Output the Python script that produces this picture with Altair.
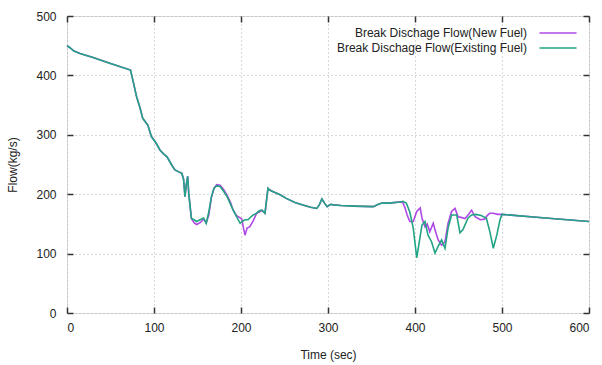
import altair as alt
import pandas as pd

# ---- data ----
t_common_a = [0, 3, 8, 15, 30, 50, 73, 76, 80, 84, 87, 90, 93, 97, 102, 107, 111, 115, 120, 124, 128, 132, 134, 135.6, 137, 138.7, 140, 143]
v_common_a = [450, 447, 441, 437, 430, 420, 409, 390, 364, 345, 328, 322, 316, 297, 287, 274, 268, 263, 250, 241, 238, 235, 225, 196, 215, 230, 200, 159]

t_mid1_new = [146, 149, 153, 157, 160, 163, 166, 169, 172, 176, 180, 184, 188, 191, 195, 199, 201, 203, 204.6, 207, 210, 214, 218, 221, 224, 227.6]
v_mid1_new = [152, 149, 152, 158, 152, 165, 195, 210, 216, 215, 208, 198, 186, 173, 164, 160, 158, 142, 131, 143, 145, 155, 168, 170, 173, 168]
t_mid1_exist = [146, 149, 153, 157, 160, 163, 166, 169, 172, 176, 180, 184, 188, 191, 195, 199, 202, 205, 208, 210, 214, 218, 221, 224, 227.6]
v_mid1_exist = [157, 154, 157, 160, 151, 170, 196, 210, 214, 213, 205, 196, 183, 173, 162, 151, 155, 157, 157, 160, 165, 168, 172, 173, 168]

t_common_b = [231, 233, 237, 245, 252, 262, 271, 280, 287, 290, 293, 296, 299, 303, 306, 315, 330, 352, 358, 362, 370, 383]
v_common_b = [210, 207, 204, 199, 193, 186, 182, 178, 176, 182, 192, 185, 179, 183, 182, 181, 180, 179, 183, 185, 185, 187]

t_mid2_new = [386, 388.5, 391, 394, 398, 402, 406, 408, 411.5, 414, 417, 421, 423, 426.6, 430.6, 434.5, 438, 442, 446, 449.5, 453, 457.5, 461, 465, 469, 475, 480, 483, 486, 490, 495]
v_mid2_new = [186, 177, 165, 154, 154, 171, 177, 160, 145, 150, 137, 151, 140, 123, 114, 120, 151, 171, 176, 162, 161, 159, 165, 173, 162, 157, 158, 164, 168, 168, 166]
t_mid2_exist = [386, 390, 394, 398, 402, 405, 408, 411.5, 415, 419, 423, 426.6, 430.6, 434.5, 438, 442, 448, 451.7, 455, 458, 461, 465, 470, 476, 482, 486, 490, 494, 497.7]
v_mid2_exist = [188, 185, 170, 143, 93, 120, 148, 154, 131, 120, 101, 112, 123, 109, 143, 165, 165, 135, 140, 150, 160, 165, 166, 164, 160, 137, 109, 131, 157]

t_common_c = [500, 550, 600]
v_common_c = [166, 160, 154]

series_names = ["Break Dischage Flow(New Fuel)", "Break Dischage Flow(Existing Fuel)"]
series_colors = ["#b048e6", "#22a383"]

x_ticks = [0, 100, 200, 300, 400, 500, 600]
y_ticks = [0, 100, 200, 300, 400, 500]


def build(name, tm1, vm1, tm2, vm2):
    t = t_common_a + tm1 + t_common_b + tm2 + t_common_c
    v = v_common_a + vm1 + v_common_b + vm2 + v_common_c
    return pd.DataFrame({"time": t, "flow": v, "series": name, "idx": range(len(t))})


df = pd.concat([
    build(series_names[0], t_mid1_new, v_mid1_new, t_mid2_new, v_mid2_new),
    build(series_names[1], t_mid1_exist, v_mid1_exist, t_mid2_exist, v_mid2_exist),
], ignore_index=True)

FONT = "Liberation Sans"
GRID = dict(grid=True, gridColor="#b0b0b0", gridDash=[1, 3], gridWidth=1)
TICK = dict(ticks=True, tickSize=6, offset=-6, tickColor="#333", tickWidth=1.5, tickOpacity=1,
            domain=False)
TXT = dict(labelFont=FONT, labelFontSize=12, labelColor="#222",
           titleFont=FONT, titleFontSize=12, titleColor="#222", titleFontWeight="normal")

xscale = alt.Scale(domain=[0, 600], nice=False)
yscale = alt.Scale(domain=[0, 500], nice=False)

main = alt.Chart(df).mark_line(strokeWidth=1.6).encode(
    x=alt.X("time:Q", scale=xscale, title="Time (sec)",
            axis=alt.Axis(values=x_ticks, labelPadding=9, titlePadding=16, **TICK, **GRID, **TXT)),
    y=alt.Y("flow:Q", scale=yscale, title="Flow(kg/s)",
            axis=alt.Axis(values=y_ticks, labelPadding=11, titlePadding=16, **TICK, **GRID, **TXT)),
    color=alt.Color("series:N", sort=series_names,
                    scale=alt.Scale(domain=series_names, range=series_colors),
                    legend=alt.Legend(orient="none", legendX=485, legendY=11, title=None,
                                      symbolType="M-4,0H4", symbolSize=86, symbolStrokeWidth=1.5,
                                      symbolFillColor="transparent",
                                      labelAlign="right", labelOffset={"expr": "-37"}, labelLimit=400,
                                      labelFontSize=12, labelFont=FONT, labelColor="#222",
                                      rowPadding=3)),
    order=alt.Order("idx:Q"),
)

mirror = alt.Chart(df).mark_line(opacity=0).encode(
    x=alt.X("time:Q", scale=xscale, title=None,
            axis=alt.Axis(orient="top", values=x_ticks, labels=False, grid=False, **TICK)),
    y=alt.Y("flow:Q", scale=yscale, title=None,
            axis=alt.Axis(orient="right", values=y_ticks, labels=False, grid=False, **TICK)),
    detail="series:N",
)

chart = alt.layer(main, mirror).resolve_axis(x="independent", y="independent").properties(
    width=522, height=297,
    autosize=alt.AutoSizeParams(type="none"),
    padding={"left": 67, "top": 16, "right": 13, "bottom": 52},
).configure_view(stroke="#444", strokeWidth=1.5).configure(background="white")

chart.save("out.html", embed_options={"renderer": "svg", "actions": False})
